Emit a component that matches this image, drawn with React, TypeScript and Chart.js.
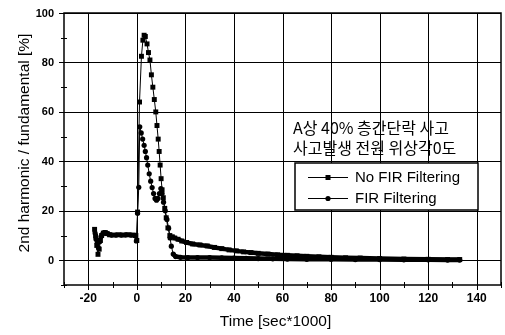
import React, { useEffect, useRef } from "react";
import { Chart, registerables } from "chart.js";

Chart.register(...registerables);

// ---- data (time in sec*1000, value in %) ----
const noFirTime = [
  -17.4, -17.0, -16.5, -16.0, -15.5, -15.0, -14.5, -13.8, -13.0, -12.2, -11.2,
  -9.5, -7.5, -5.5, -3.5, -1.5, -0.4, 0.0, 0.3, 1.1, 1.9, 2.5, 3.0, 3.5, 4.2,
  4.8, 5.4, 6.0, 6.6, 7.2, 7.8, 8.3, 8.8, 9.2, 9.6, 10.0, 10.4, 10.9, 11.5,
  12.1, 12.8, 13.6, 14.6, 15.6, 17, 18.5, 20.5, 23, 26, 29, 32, 35, 38, 41,
  44, 47, 50, 54, 58, 62, 66, 70, 75, 80, 86, 92, 100, 110, 120, 128, 133,
];
const noFirValue = [
  12.5, 9.8, 6, 2.4, 4.5, 8, 10, 11, 11.2, 10.8, 10.3,
  10.2, 10.3, 10.2, 10.3, 10.2, 10, 8, 19.5, 64, 82.5, 89, 91, 90.5, 87.5,
  84, 81, 75, 70, 65, 60, 54.5, 49, 44, 38.5, 33, 28.5, 25.3, 21,
  17.2, 13.1, 10, 9.5, 9, 8.5, 7.8, 7.2, 6.6, 6.2, 5.8, 5.2, 4.7, 4.2, 3.8,
  3.4, 3.1, 2.8, 2.5, 2.2, 2.0, 1.8, 1.6, 1.4, 1.2, 1.0, 0.9, 0.7, 0.5, 0.4, 0.3, 0.3,
];

const firTime = [
  -17.2, -16.8, -16.3, -15.8, -15.3, -14.8, -14.2, -13.5, -12.6, -11.6, -10.5,
  -8.5, -6.5, -4.5, -2.5, -0.8, -0.2, 0.3, 0.8, 1.2, 1.8, 2.4, 3.0, 3.5, 4.0,
  4.5, 5.1, 5.7, 6.3, 6.9, 7.5, 8.1, 8.7, 9.3, 9.9, 10.4, 11.0, 11.7, 12.4,
  13.1, 13.7, 14.2, 15.0, 16.0, 18, 21, 25, 30, 35, 40, 45, 50, 56, 62, 70,
  80, 90, 100, 110, 120, 128, 133,
];
const firValue = [
  11, 8.5, 7, 5, 7.5, 9.5, 10.5, 11.2, 11, 10.5, 10.2,
  10.2, 10.2, 10.3, 10.2, 10, 7.8, 19, 29.5, 54, 51.5, 49, 46.5, 44, 41.5,
  38.5, 35, 32, 29.4, 27, 25, 24.3, 25, 27, 29, 27, 23.5, 20, 16.5,
  13, 9, 5.7, 2.5, 1.5, 1.2, 1.1, 1.1, 1.1, 1.0, 0.9, 0.8, 0.7, 0.6, 0.5, 0.4,
  0.4, 0.3, 0.3, 0.2, 0.2, 0.1, 0.1,
];

const xTickValues = [-20, 0, 20, 40, 60, 80, 100, 120, 140];
const xMinorValues = [-30, -10, 10, 30, 50, 70, 90, 110, 130, 150];
const yTickValues = [0, 20, 40, 60, 80, 100];
const yMinorValues = [-10, 10, 30, 50, 70, 90];

const seriesNames = ["No FIR Filtering", "FIR Filtering"];
const noteLines = ["A상 40% 층간단락 사고", "사고발생 전원 위상각0도"];
const xTitle = "Time [sec*1000]";
const yTitle = "2nd harmonic / fundamental [%]";

const X_MIN = -30;
const X_MAX = 150;
const Y_MIN = -10;
const Y_MAX = 100;

const LATIN = '"Liberation Sans", Arial, sans-serif';
const KOREAN = '"Noto Sans CJK KR", "Liberation Sans", sans-serif';
const GRID_COLOR = "#000000";

const thickSegment = (ctx: any) => {
  const a = ctx.p0.parsed.x;
  const b = ctx.p1.parsed.x;
  if (a >= 14.5) return 4.5;
  if (a >= -14.5 && b <= -0.3) return 4;
  return 1;
};

const gridPlugin = {
  id: "gridFrame",
  afterDatasetsDraw(chart: any) {
    const { ctx, chartArea, scales } = chart;
    const xs = scales.x;
    const ys = scales.y;
    const { left, right, top, bottom } = chartArea;
    ctx.save();
    ctx.strokeStyle = GRID_COLOR;
    ctx.lineWidth = 1;
    ctx.beginPath();
    xTickValues.forEach((v) => {
      const px = Math.round(xs.getPixelForValue(v)) + 0.5;
      ctx.moveTo(px, top);
      ctx.lineTo(px, bottom + 5);
    });
    yTickValues.forEach((v) => {
      const py = Math.round(ys.getPixelForValue(v)) + 0.5;
      ctx.moveTo(left - 5, py);
      ctx.lineTo(right, py);
    });
    xMinorValues.forEach((v) => {
      const px = Math.round(xs.getPixelForValue(v)) + 0.5;
      ctx.moveTo(px, bottom - 3);
      ctx.lineTo(px, bottom + 3);
    });
    yMinorValues.forEach((v) => {
      const py = Math.round(ys.getPixelForValue(v)) + 0.5;
      ctx.moveTo(left - 3, py);
      ctx.lineTo(left + 3, py);
    });
    ctx.stroke();
    ctx.lineWidth = 1.5;
    ctx.strokeRect(left, top, right - left, bottom - top);

    // tick labels
    ctx.fillStyle = "#000";
    ctx.font = `bold 11px ${LATIN}`;
    ctx.textAlign = "right";
    ctx.textBaseline = "middle";
    yTickValues.forEach((v) => {
      ctx.fillText(String(v), left - 10, ys.getPixelForValue(v) + 0.5);
    });
    ctx.font = `bold 12px ${LATIN}`;
    ctx.textAlign = "center";
    xTickValues.forEach((v) => {
      ctx.fillText(String(v), xs.getPixelForValue(v), bottom + 14);
    });
    ctx.restore();
  },
};

const overlayPlugin = {
  id: "overlay",
  afterDatasetsDraw(chart: any) {
    const { ctx, chartArea } = chart;
    ctx.save();
    ctx.fillStyle = "#000";
    ctx.strokeStyle = "#000";

    // axis titles
    ctx.font = `15.5px ${LATIN}`;
    ctx.textAlign = "center";
    ctx.textBaseline = "middle";
    ctx.fillText(xTitle, (chartArea.left + chartArea.right) / 2 - 7, chartArea.bottom + 37);
    ctx.save();
    ctx.translate(25, (chartArea.top + chartArea.bottom) / 2 - 6);
    ctx.rotate(-Math.PI / 2);
    ctx.fillText(yTitle, 0, 0);
    ctx.restore();

    // note text
    ctx.font = `16px ${KOREAN}`;
    ctx.textAlign = "left";
    ctx.fillText(noteLines[0], chartArea.left + 229, chartArea.top + 115);
    ctx.fillText(noteLines[1], chartArea.left + 229, chartArea.top + 135);

    // legend
    const bx = chartArea.left + 231;
    const by = chartArea.top + 150;
    const bw = 183;
    const bh = 47;
    ctx.fillStyle = "#fff";
    ctx.fillRect(bx, by, bw, bh);
    ctx.lineWidth = 1.5;
    ctx.strokeRect(bx, by, bw, bh);
    ctx.fillStyle = "#000";
    ctx.font = `15px ${LATIN}`;
    const rows = [by + 14, by + 35];
    rows.forEach((ry, i) => {
      ctx.lineWidth = 1;
      ctx.beginPath();
      ctx.moveTo(bx + 13, ry + 0.5);
      ctx.lineTo(bx + 53, ry + 0.5);
      ctx.stroke();
      const cx = bx + 33;
      if (i === 0) {
        ctx.fillRect(cx - 2.5, ry - 2, 5, 5);
      } else {
        ctx.beginPath();
        ctx.arc(cx, ry + 0.5, 2.6, 0, Math.PI * 2);
        ctx.fill();
      }
      ctx.fillText(seriesNames[i], bx + 60, ry + 1);
    });
    ctx.restore();
  },
};

export default function App() {
  const canvasRef = useRef<HTMLCanvasElement | null>(null);

  useEffect(() => {
    const canvas = canvasRef.current;
    if (!canvas) return;
    const chart = new Chart(canvas, {
      type: "scatter",
      data: {
        datasets: [
          {
            label: seriesNames[0],
            data: noFirTime.map((t, i) => ({ x: t, y: noFirValue[i] })),
            showLine: true,
            borderColor: "#000",
            backgroundColor: "#000",
            borderWidth: 1,
            pointStyle: "rect",
            pointRadius: 3.5,
            pointBorderWidth: 0,
            segment: { borderWidth: thickSegment },
          } as any,
          {
            label: seriesNames[1],
            data: firTime.map((t, i) => ({ x: t, y: firValue[i] })),
            showLine: true,
            borderColor: "#000",
            backgroundColor: "#000",
            borderWidth: 1,
            pointStyle: "circle",
            pointRadius: 2.6,
            pointBorderWidth: 0,
            segment: { borderWidth: thickSegment },
          } as any,
        ],
      },
      options: {
        responsive: false,
        animation: false,
        layout: { padding: { left: 0, right: 1, top: 13, bottom: 0 } },
        plugins: {
          legend: { display: false },
          tooltip: { enabled: false },
        },
        scales: {
          x: {
            type: "linear",
            min: X_MIN,
            max: X_MAX,
            ticks: { display: false },
            grid: { display: false },
            border: { display: false },
            afterFit: (s: any) => {
              s.height = 50;
            },
          },
          y: {
            type: "linear",
            min: Y_MIN,
            max: Y_MAX,
            ticks: { display: false },
            grid: { display: false },
            border: { display: false },
            afterFit: (s: any) => {
              s.width = 64;
            },
          },
        },
      },
      plugins: [gridPlugin, overlayPlugin],
    });
    return () => chart.destroy();
  }, []);

  return (
    <div style={{ position: "absolute", left: 0, top: 0, width: 505, height: 335, background: "#fff" }}>
      <canvas ref={canvasRef} width={505} height={335} style={{ display: "block" }} />
    </div>
  );
}
